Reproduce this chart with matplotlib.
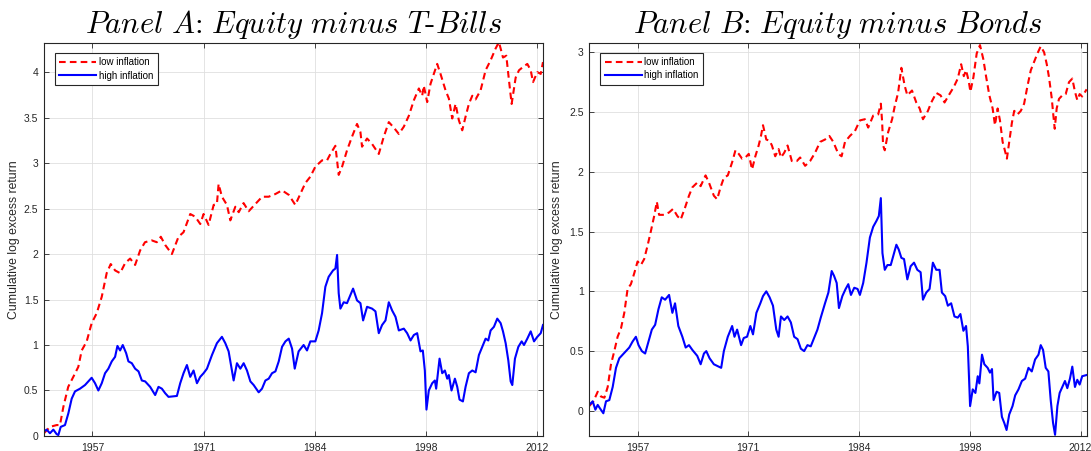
import numpy as np
import matplotlib
matplotlib.use("Agg")
import matplotlib.pyplot as plt
from matplotlib.ticker import FormatStrFormatter

plt.rcParams['font.family'] = ['Liberation Sans', 'DejaVu Sans']
plt.rcParams['mathtext.fontset'] = 'cm'

# cumulative log excess returns, low vs high inflation regimes
# Panel A: equity minus T-bills
a_low_t = [1951.0, 1951.74, 1952.57, 1952.98, 1953.4, 1954.0, 1954.63, 1955.25, 1955.67, 1956.29,
           1956.9, 1957.53, 1958.15, 1958.76, 1959.26, 1959.8, 1960.42, 1961.04, 1961.66, 1962.28,
           1962.9, 1963.5, 1964.34, 1964.96, 1965.46, 1966.0, 1966.83, 1967.65, 1968.27, 1969.1,
           1969.72, 1970.34, 1970.75, 1971.37, 1972.0, 1972.4, 1972.61, 1973.02, 1973.64, 1974.06,
           1974.68, 1975.1, 1975.7, 1976.33, 1977.16, 1978.0, 1978.8, 1979.64, 1980.46, 1981.3,
           1982.1, 1982.72, 1983.34, 1983.96, 1984.58, 1985.41, 1986.03, 1986.44, 1987.06, 1987.47,
           1987.89, 1988.5, 1989.12, 1989.74, 1990.16, 1990.36, 1990.98, 1991.6, 1992.43, 1993.05,
           1993.67, 1994.29, 1994.91, 1995.53, 1996.15, 1996.77, 1997.39, 1997.8, 1998.0, 1998.42,
           1998.83, 1999.24, 1999.66, 2000.07, 2000.69, 2001.1, 2001.52, 2001.93, 2002.34, 2002.76,
           2003.17, 2003.58, 2004.0, 2004.41, 2005.03, 2005.65, 2006.27, 2006.89, 2007.3, 2007.8,
           2008.21, 2008.54, 2008.87, 2009.37, 2009.78, 2010.19, 2010.81, 2011.23, 2011.52, 2012.05,
           2012.47, 2012.75]
a_low_v = [0.03, 0.10, 0.12, 0.12, 0.32, 0.54, 0.65, 0.76, 0.94, 1.04,
           1.24, 1.35, 1.53, 1.79, 1.89, 1.82, 1.79, 1.90, 1.95, 1.88,
           2.04, 2.13, 2.15, 2.13, 2.19, 2.10, 2.00, 2.19, 2.24, 2.44,
           2.41, 2.33, 2.44, 2.32, 2.54, 2.55, 2.77, 2.63, 2.54, 2.37,
           2.52, 2.46, 2.56, 2.47, 2.55, 2.63, 2.63, 2.66, 2.70, 2.65,
           2.54, 2.66, 2.78, 2.85, 2.96, 3.03, 3.03, 3.10, 3.19, 2.87,
           2.96, 3.14, 3.29, 3.43, 3.34, 3.18, 3.27, 3.21, 3.10, 3.29,
           3.45, 3.39, 3.32, 3.40, 3.52, 3.69, 3.82, 3.74, 3.85, 3.67,
           3.87, 3.98, 4.09, 3.98, 3.80, 3.71, 3.49, 3.65, 3.47, 3.36,
           3.51, 3.65, 3.74, 3.70, 3.80, 4.02, 4.13, 4.26, 4.33, 4.16,
           4.18, 3.91, 3.65, 3.94, 4.02, 4.05, 4.09, 4.02, 3.89, 4.00,
           3.98, 4.11]

a_high_t = [1951.0, 1951.33, 1951.74, 1952.16, 1952.57, 1952.78, 1953.07, 1953.6, 1954.02, 1954.43,
            1954.84, 1955.46, 1956.08, 1956.49, 1956.9, 1957.32, 1957.73, 1958.15, 1958.56, 1958.97,
            1959.39, 1959.8, 1960.09, 1960.42, 1960.75, 1961.17, 1961.45, 1961.87, 1962.28, 1962.7,
            1963.11, 1963.52, 1964.14, 1964.76, 1965.17, 1965.59, 1966.0, 1966.41, 1967.45, 1967.86,
            1968.27, 1968.69, 1969.1, 1969.51, 1969.93, 1970.34, 1970.75, 1971.17, 1971.79, 1972.4,
            1973.02, 1973.44, 1973.85, 1974.26, 1974.47, 1974.88, 1975.3, 1975.71, 1976.12, 1976.54,
            1976.95, 1977.57, 1977.98, 1978.4, 1978.81, 1979.22, 1979.64, 1980.05, 1980.46, 1980.88,
            1981.29, 1981.7, 1982.03, 1982.51, 1983.13, 1983.55, 1983.96, 1984.58, 1984.99, 1985.41,
            1985.82, 1986.23, 1986.77, 1987.06, 1987.27, 1987.47, 1987.68, 1988.09, 1988.5, 1988.92,
            1989.25, 1989.74, 1990.16, 1990.49, 1990.98, 1991.6, 1992.02, 1992.43, 1992.84, 1993.26,
            1993.67, 1994.08, 1994.5, 1994.91, 1995.53, 1995.94, 1996.36, 1996.77, 1997.18, 1997.59,
            1997.88, 1998.13, 1998.33, 1998.62, 1999.04, 1999.37, 1999.53, 1999.95, 2000.28, 2000.61,
            2000.9, 2001.1, 2001.43, 2001.85, 2002.14, 2002.42, 2002.84, 2003.17, 2003.58, 2004.0,
            2004.41, 2004.82, 2005.23, 2005.65, 2005.98, 2006.27, 2006.68, 2007.09, 2007.51, 2007.8,
            2008.13, 2008.46, 2008.75, 2008.95, 2009.28, 2009.7, 2010.11, 2010.4, 2010.81, 2011.23,
            2011.64, 2012.05, 2012.47, 2012.75]
a_high_v = [0.05, 0.07, 0.03, 0.07, 0.02, 0.01, 0.10, 0.12, 0.25, 0.41,
            0.49, 0.52, 0.56, 0.60, 0.64, 0.58, 0.50, 0.58, 0.69, 0.74,
            0.82, 0.87, 0.99, 0.94, 1.00, 0.91, 0.82, 0.80, 0.74, 0.71,
            0.61, 0.60, 0.54, 0.45, 0.54, 0.52, 0.47, 0.43, 0.44, 0.58,
            0.69, 0.78, 0.65, 0.72, 0.58, 0.65, 0.69, 0.74, 0.89, 1.02,
            1.09, 1.02, 0.93, 0.72, 0.61, 0.80, 0.74, 0.80, 0.72, 0.60,
            0.56, 0.48, 0.52, 0.61, 0.63, 0.69, 0.71, 0.82, 0.98, 1.04,
            1.07, 0.96, 0.74, 0.93, 1.00, 0.94, 1.04, 1.04, 1.16, 1.35,
            1.64, 1.75, 1.82, 1.84, 1.99, 1.57, 1.40, 1.47, 1.46, 1.55,
            1.62, 1.49, 1.46, 1.27, 1.42, 1.40, 1.37, 1.13, 1.22, 1.27,
            1.47, 1.38, 1.31, 1.16, 1.18, 1.13, 1.05, 1.11, 1.13, 0.93,
            0.94, 0.72, 0.29, 0.50, 0.58, 0.61, 0.52, 0.85, 0.69, 0.72,
            0.63, 0.67, 0.50, 0.63, 0.54, 0.40, 0.38, 0.54, 0.69, 0.72,
            0.70, 0.89, 0.98, 1.07, 1.05, 1.16, 1.20, 1.29, 1.24, 1.15,
            1.02, 0.83, 0.60, 0.56, 0.85, 0.98, 1.04, 1.00, 1.07, 1.15,
            1.04, 1.09, 1.13, 1.22]

# Panel B: equity minus bonds
b_low_t = [1951.0, 1951.52, 1952.05, 1952.46, 1952.88, 1953.29, 1953.7, 1954.11, 1954.52, 1954.94,
           1955.35, 1955.76, 1956.17, 1956.58, 1957.0, 1957.41, 1957.82, 1958.23, 1958.64, 1959.06,
           1959.39, 1959.67, 1960.29, 1960.91, 1961.41, 1961.94, 1962.35, 1962.89, 1963.38, 1963.8,
           1964.41, 1964.83, 1965.44, 1965.86, 1966.47, 1966.88, 1967.3, 1967.71, 1968.2, 1968.74,
           1969.15, 1969.56, 1969.97, 1970.39, 1970.8, 1971.21, 1971.62, 1972.03, 1972.32, 1972.57,
           1972.98, 1973.39, 1973.68, 1974.09, 1974.51, 1974.8, 1975.21, 1975.62, 1976.15, 1976.77,
           1977.18, 1977.8, 1978.42, 1979.04, 1979.66, 1980.27, 1980.81, 1981.3, 1981.92, 1982.33,
           1982.75, 1983.36, 1983.98, 1984.6, 1985.22, 1985.63, 1986.25, 1986.87, 1987.2, 1987.36,
           1987.48, 1987.69, 1988.1, 1988.6, 1988.93, 1989.34, 1989.75, 1990.16, 1990.49, 1991.07,
           1991.6, 1992.02, 1992.43, 1993.05, 1993.46, 1994.08, 1994.61, 1995.11, 1995.72, 1996.26,
           1996.75, 1997.17, 1997.5, 1997.78, 1998.11, 1998.32, 1998.69, 1999.1, 1999.51, 1999.93,
           2000.26, 2000.67, 2001.08, 2001.37, 2001.7, 2001.99, 2002.32, 2002.52, 2002.85, 2003.14,
           2003.47, 2003.76, 2004.17, 2004.58, 2004.99, 2005.41, 2005.82, 2006.23, 2006.64, 2007.05,
           2007.47, 2007.8, 2008.08, 2008.41, 2008.62, 2008.79, 2009.03, 2009.32, 2009.73, 2010.15,
           2010.56, 2010.97, 2011.3, 2011.59, 2011.88, 2012.2, 2012.75]
b_low_v = [0.04, 0.08, 0.16, 0.12, 0.11, 0.20, 0.39, 0.50, 0.62, 0.69,
           0.82, 1.02, 1.06, 1.15, 1.25, 1.22, 1.27, 1.38, 1.50, 1.63,
           1.75, 1.64, 1.64, 1.66, 1.69, 1.63, 1.60, 1.70, 1.80, 1.87,
           1.91, 1.88, 1.97, 1.91, 1.80, 1.77, 1.87, 1.95, 1.97, 2.08,
           2.18, 2.15, 2.11, 2.12, 2.15, 2.02, 2.13, 2.22, 2.30, 2.39,
           2.27, 2.26, 2.22, 2.13, 2.19, 2.12, 2.16, 2.22, 2.09, 2.09,
           2.12, 2.05, 2.09, 2.16, 2.25, 2.27, 2.30, 2.25, 2.15, 2.13,
           2.25, 2.30, 2.34, 2.43, 2.44, 2.37, 2.47, 2.48, 2.57, 2.42,
           2.22, 2.18, 2.33, 2.44, 2.55, 2.66, 2.87, 2.72, 2.64, 2.68,
           2.58, 2.53, 2.44, 2.51, 2.58, 2.66, 2.64, 2.58, 2.65, 2.71,
           2.78, 2.90, 2.80, 2.85, 2.76, 2.67, 2.79, 2.99, 3.06, 2.94,
           2.80, 2.64, 2.53, 2.39, 2.53, 2.43, 2.25, 2.20, 2.11, 2.25,
           2.41, 2.51, 2.48, 2.51, 2.57, 2.72, 2.85, 2.92, 2.99, 3.05,
           3.00, 2.90, 2.79, 2.62, 2.47, 2.36, 2.53, 2.61, 2.64, 2.65,
           2.75, 2.78, 2.67, 2.60, 2.65, 2.63, 2.69]

b_high_t = [1951.0, 1951.43, 1951.76, 1952.05, 1952.34, 1952.75, 1953.08, 1953.49, 1953.91, 1954.32,
            1954.73, 1955.14, 1955.55, 1955.97, 1956.38, 1956.79, 1957.12, 1957.53, 1957.94, 1958.36,
            1958.77, 1959.18, 1959.59, 1960.0, 1960.42, 1960.91, 1961.32, 1961.65, 1962.06, 1962.56,
            1962.97, 1963.38, 1963.8, 1964.41, 1964.83, 1965.24, 1965.53, 1965.94, 1966.47, 1967.38,
            1967.71, 1968.2, 1968.74, 1969.03, 1969.36, 1969.85, 1970.18, 1970.59, 1971.0, 1971.33,
            1971.75, 1972.24, 1972.57, 1972.98, 1973.39, 1973.81, 1974.22, 1974.51, 1974.8, 1975.21,
            1975.62, 1976.03, 1976.44, 1976.86, 1977.27, 1977.68, 1978.09, 1978.5, 1978.92, 1979.33,
            1979.74, 1980.27, 1980.69, 1981.1, 1981.39, 1981.72, 1982.0, 1982.42, 1982.83, 1983.16,
            1983.49, 1983.9, 1984.31, 1984.6, 1985.01, 1985.42, 1985.84, 1986.25, 1986.66, 1986.95,
            1987.2, 1987.4, 1987.69, 1988.02, 1988.43, 1988.84, 1989.13, 1989.42, 1989.75, 1990.08,
            1990.49, 1990.9, 1991.32, 1991.73, 1992.14, 1992.43, 1992.84, 1993.25, 1993.66, 1994.08,
            1994.49, 1994.78, 1995.19, 1995.52, 1995.93, 1996.34, 1996.75, 1997.08, 1997.45, 1997.78,
            1998.0, 1998.28, 1998.61, 1998.94, 1999.23, 1999.43, 1999.76, 2000.05, 2000.46, 2000.75,
            2001.0, 2001.2, 2001.57, 2001.9, 2002.23, 2002.52, 2002.81, 2003.14, 2003.55, 2003.88,
            2004.29, 2004.71, 2005.12, 2005.53, 2005.94, 2006.35, 2006.77, 2007.05, 2007.34, 2007.67,
            2008.0, 2008.29, 2008.58, 2008.83, 2009.12, 2009.4, 2009.73, 2010.06, 2010.35, 2010.68,
            2010.97, 2011.3, 2011.59, 2011.88, 2012.2, 2012.75]
b_high_v = [0.05, 0.08, 0.01, 0.05, 0.02, -0.02, 0.08, 0.09, 0.20, 0.36,
            0.44, 0.47, 0.50, 0.53, 0.58, 0.62, 0.55, 0.50, 0.48, 0.58,
            0.68, 0.72, 0.85, 0.95, 0.93, 0.97, 0.82, 0.90, 0.71, 0.62,
            0.53, 0.55, 0.51, 0.46, 0.39, 0.48, 0.50, 0.44, 0.39, 0.36,
            0.50, 0.62, 0.71, 0.62, 0.68, 0.55, 0.61, 0.62, 0.71, 0.64,
            0.82, 0.90, 0.96, 1.00, 0.95, 0.88, 0.68, 0.62, 0.79, 0.76,
            0.79, 0.74, 0.62, 0.60, 0.52, 0.50, 0.55, 0.54, 0.61, 0.68,
            0.78, 0.90, 0.99, 1.17, 1.13, 1.07, 0.86, 0.96, 1.02, 1.06,
            0.97, 1.03, 1.02, 0.97, 1.07, 1.24, 1.45, 1.54, 1.59, 1.63,
            1.78, 1.32, 1.18, 1.22, 1.22, 1.32, 1.39, 1.35, 1.28, 1.27,
            1.10, 1.21, 1.24, 1.18, 1.16, 0.93, 0.99, 1.02, 1.24, 1.18,
            1.18, 0.99, 0.96, 0.88, 0.90, 0.79, 0.78, 0.81, 0.67, 0.71,
            0.54, 0.04, 0.18, 0.15, 0.29, 0.23, 0.47, 0.39, 0.36, 0.32,
            0.35, 0.09, 0.16, 0.15, -0.05, -0.10, -0.16, -0.03, 0.04, 0.13,
            0.18, 0.25, 0.27, 0.36, 0.33, 0.43, 0.47, 0.55, 0.51, 0.36,
            0.33, 0.09, -0.10, -0.20, 0.04, 0.15, 0.20, 0.25, 0.19, 0.27,
            0.37, 0.20, 0.26, 0.22, 0.29, 0.30]

tick_pos = [1957, 1970.75, 1984.5, 1998.25, 2012]
tick_lab = ['1957', '1971', '1984', '1998', '2012']

titles = [r'$\mathit{Panel\ A}\text{:}\ \mathit{Equity\ minus\ T}\text{-}\mathit{Bills}$',
          r'$\mathit{Panel\ B}\text{:}\ \mathit{Equity\ minus\ Bonds}$']
ylims = [(0, 4.32), (-0.21, 3.08)]
yticks = [np.arange(0, 4.01, 0.5), np.arange(0, 3.01, 0.5)]
series = [(a_low_t, a_low_v, a_high_t, a_high_v), (b_low_t, b_low_v, b_high_t, b_high_v)]
frames = [[0.0403, 0.0333, 0.4574, 0.8714], [0.5401, 0.0333, 0.4559, 0.8720]]
label_x = [-0.049, -0.053]

axcol = '#262626'
fig = plt.figure(figsize=(10.91, 4.51), dpi=100)

for i in range(2):
    ax = fig.add_axes(frames[i])
    lt, lv, ht, hv = series[i]
    ax.plot(lt, lv, color='red', lw=1.5, dashes=(3.2, 2), label='low inflation')
    ax.plot(ht, hv, color='blue', lw=1.5, label='high inflation')

    ax.set_xlim(1951.0, 2012.75)
    ax.set_ylim(*ylims[i])
    ax.set_xticks(tick_pos)
    ax.set_xticklabels(tick_lab)
    ax.set_yticks(yticks[i])
    ax.yaxis.set_major_formatter(FormatStrFormatter('%g'))
    ax.grid(True, color='#dfdfdf', lw=0.6)
    ax.set_axisbelow(True)
    ax.tick_params(direction='in', length=3.5, width=0.6, colors=axcol, labelsize=7.5,
                   top=True, right=True)
    ax.tick_params(axis='x', pad=5)
    ax.tick_params(axis='y', pad=4)
    for s in ax.spines.values():
        s.set_color(axcol)
        s.set_linewidth(0.8)

    ax.set_ylabel('Cumulative log excess return', fontsize=8.8, color=axcol)
    ax.yaxis.set_label_coords(label_x[i], 0.5)
    ax.set_title(titles[i], fontsize=22, pad=7)

    leg = ax.legend(loc='upper left', bbox_to_anchor=(0.022, 0.975), borderaxespad=0,
                    fontsize=7, fancybox=False, framealpha=1, handlelength=3.8,
                    handletextpad=0.3, borderpad=0.45, labelspacing=0.35)
    leg.get_frame().set_edgecolor(axcol)
    leg.get_frame().set_linewidth(0.8)

fig.savefig('out.png', dpi=100)
